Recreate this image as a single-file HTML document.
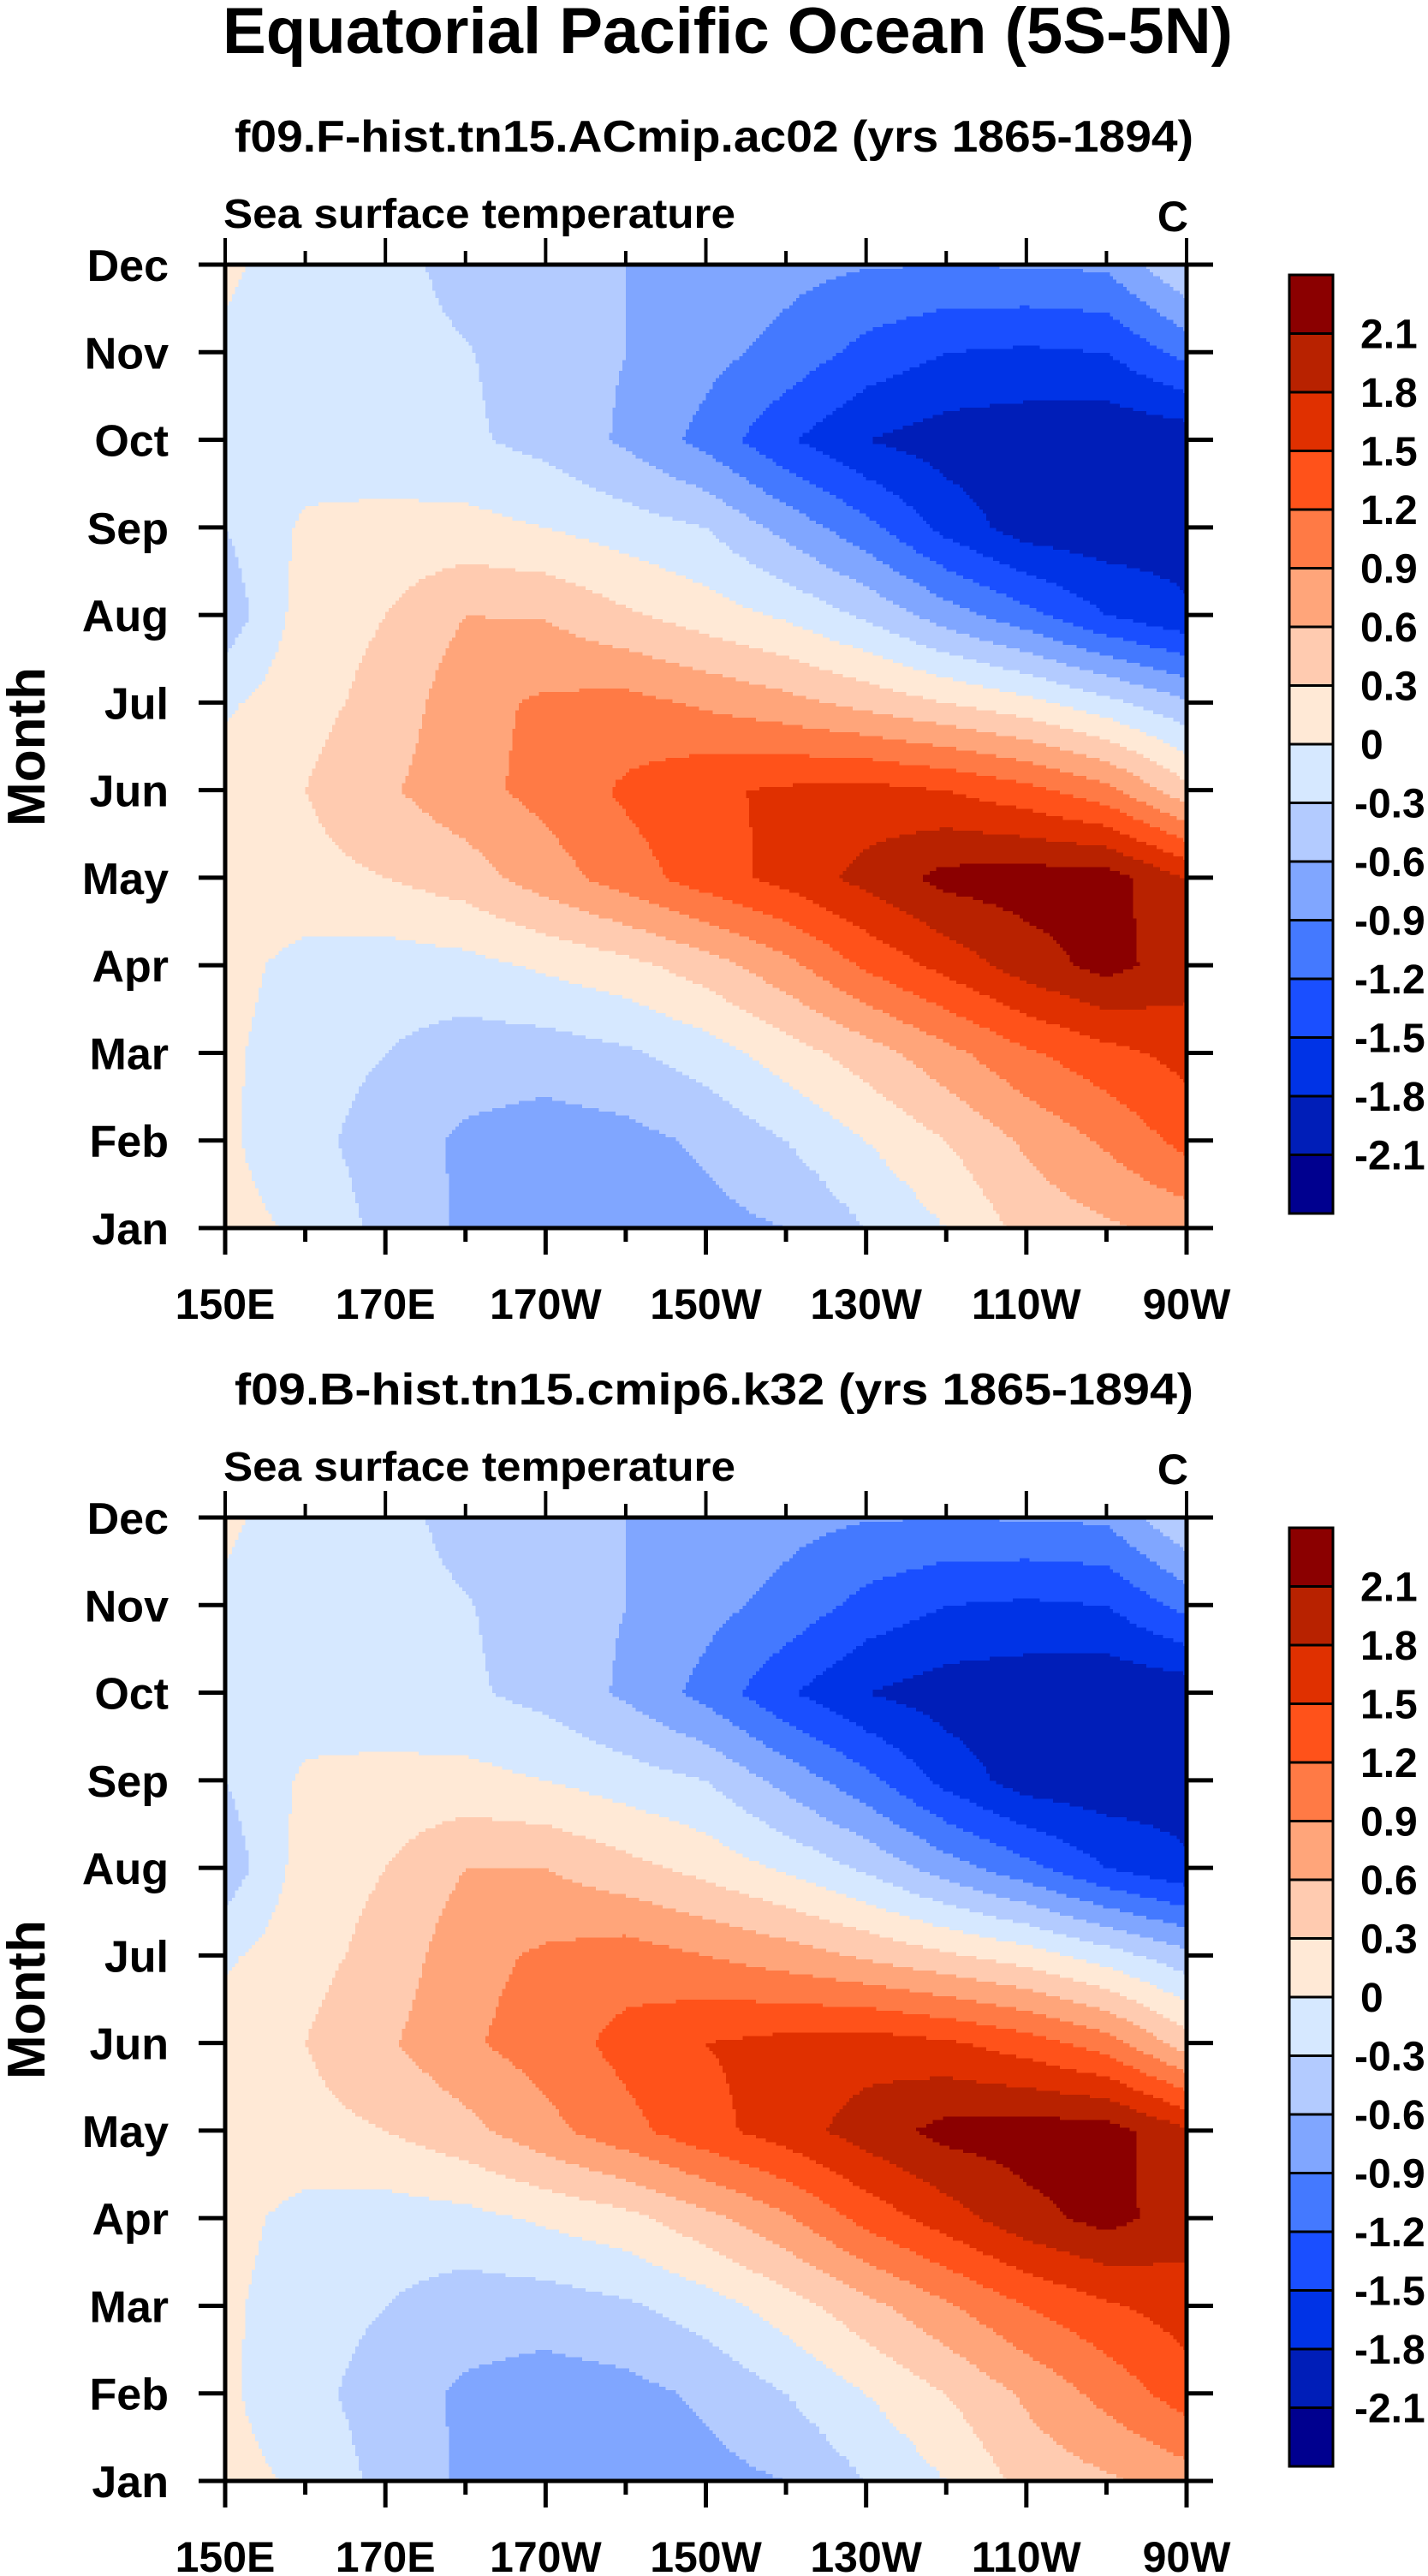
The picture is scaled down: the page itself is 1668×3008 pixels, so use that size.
<!DOCTYPE html>
<html><head><meta charset="utf-8">
<style>
html,body{margin:0;padding:0;background:#fff;}
svg{display:block;}
text{font-family:"Liberation Sans",Arial,sans-serif;font-weight:bold;fill:#000;}
</style></head>
<body>
<svg id="chart" width="1668" height="3008" viewBox="0 0 1668 3008" xmlns="http://www.w3.org/2000/svg">
<text x="850" y="62" font-size="76" text-anchor="middle" textLength="1180" lengthAdjust="spacingAndGlyphs">Equatorial Pacific Ocean (5S-5N)</text>
</svg>
<script>
// ---- data ----
const months = ["Jan","Feb","Mar","Apr","May","Jun","Jul","Aug","Sep","Oct","Nov","Dec"];
const lonLabels = ["150E","170E","170W","150W","130W","110W","90W"];
const lons = [150,160,170,180,190,200,210,220,230,240,250,260,270];
const levels = [-2.1,-1.8,-1.5,-1.2,-0.9,-0.6,-0.3,0,0.3,0.6,0.9,1.2,1.5,1.8,2.1];
const levelLabels = ["2.1","1.8","1.5","1.2","0.9","0.6","0.3","0","-0.3","-0.6","-0.9","-1.2","-1.5","-1.8","-2.1"];
const colors = ["#00008f","#001eb8","#0033e6","#1a4fff","#4479ff","#80a6ff","#b3cbff","#d6e8ff","#ffe9d6","#ffcbb0","#ffa57a","#ff7a45","#ff521a","#e03000","#b82200","#8b0000"];
// rows: Jan..Dec, columns: 150E..90W every 10 deg
const sstA = [
 [0.1,-0.05,-0.4,-0.65,-0.75,-0.75,-0.7,-0.6,-0.3,0.0,0.4,0.55,0.7],
 [0.05,-0.2,-0.45,-0.65,-0.75,-0.7,-0.55,-0.3,0.0,0.3,0.65,0.95,1.3],
 [0.05,-0.15,-0.3,-0.45,-0.45,-0.35,-0.15,0.15,0.45,0.8,1.15,1.4,1.6],
 [0.1,-0.1,-0.15,-0.1,0.05,0.2,0.45,0.8,1.25,1.6,1.95,2.2,1.95],
 [0.15,0.2,0.3,0.45,0.75,1.05,1.35,1.6,1.9,2.2,2.25,2.25,1.8],
 [0.15,0.3,0.55,0.8,1.0,1.25,1.45,1.55,1.6,1.5,1.3,1.0,0.4],
 [-0.05,0.2,0.4,0.8,0.95,1.0,0.85,0.7,0.5,0.3,0.1,-0.2,-0.55],
 [-0.5,0.15,0.3,0.6,0.58,0.35,0.15,-0.05,-0.35,-0.75,-1.1,-1.5,-1.75],
 [-0.3,0.05,0.1,0.1,0.0,-0.15,-0.3,-0.7,-1.1,-1.6,-1.95,-2.0,-1.95],
 [-0.1,-0.15,-0.2,-0.25,-0.4,-0.65,-1.0,-1.45,-1.8,-1.95,-2.0,-2.05,-2.0],
 [-0.05,-0.1,-0.2,-0.28,-0.45,-0.6,-0.8,-1.0,-1.3,-1.5,-1.55,-1.5,-1.1],
 [0.05,-0.15,-0.2,-0.4,-0.5,-0.6,-0.7,-0.8,-0.88,-0.9,-0.88,-0.85,-0.3]
];
const sstB = [
 [0.1,-0.05,-0.4,-0.65,-0.75,-0.75,-0.7,-0.6,-0.3,0.0,0.4,0.55,0.75],
 [0.05,-0.2,-0.45,-0.65,-0.75,-0.7,-0.55,-0.3,0.0,0.3,0.65,1.0,1.35],
 [0.05,-0.15,-0.3,-0.45,-0.45,-0.35,-0.15,0.15,0.5,0.85,1.2,1.45,1.65],
 [0.1,-0.1,-0.15,-0.1,0.05,0.2,0.5,0.85,1.3,1.65,2.0,2.2,1.95],
 [0.15,0.2,0.3,0.5,0.8,1.1,1.4,1.65,1.95,2.2,2.25,2.25,1.85],
 [0.15,0.3,0.55,0.85,1.05,1.3,1.5,1.6,1.65,1.55,1.35,1.05,0.45],
 [-0.05,0.2,0.4,0.8,0.95,1.05,0.9,0.75,0.55,0.35,0.15,-0.15,-0.5],
 [-0.5,0.15,0.3,0.6,0.6,0.4,0.2,-0.05,-0.35,-0.75,-1.1,-1.5,-1.75],
 [-0.3,0.05,0.1,0.1,0.0,-0.15,-0.3,-0.7,-1.1,-1.6,-1.95,-2.0,-1.95],
 [-0.1,-0.15,-0.2,-0.25,-0.4,-0.65,-1.0,-1.45,-1.8,-1.95,-2.0,-2.05,-2.0],
 [-0.05,-0.1,-0.2,-0.28,-0.45,-0.6,-0.8,-1.0,-1.3,-1.5,-1.55,-1.5,-1.1],
 [0.05,-0.15,-0.2,-0.4,-0.5,-0.6,-0.7,-0.8,-0.88,-0.9,-0.88,-0.85,-0.3]
];
const subtitles = ["f09.F-hist.tn15.ACmip.ac02 (yrs 1865-1894)","f09.B-hist.tn15.cmip6.k32 (yrs 1865-1894)"];

const NS = "http://www.w3.org/2000/svg";
const svg = document.getElementById("chart");
function mk(tag, attrs, parent){const e=document.createElementNS(NS,tag);for(const k in attrs)e.setAttribute(k,attrs[k]);(parent||svg).appendChild(e);return e;}
function colorFor(v){let i=0;while(i<levels.length&&v>=levels[i])i++;return colors[i];}

function drawPanel(data, sub, off, idx){
  const X0=263,X1=1386,Y0=309+off,Y1=1434+off;
  const xs=lon=>X0+(lon-150)/120*(X1-X0);
  const ys=m=>Y1-m/11*(Y1-Y0);
  const g=mk("g",{});
  
  
  const st=mk("text",{x:834,y:177+off,"font-size":52,"text-anchor":"middle",textLength:1120,lengthAdjust:"spacingAndGlyphs"},g);
  st.textContent=sub;
  
  
  const lt=mk("text",{x:261,y:266+off,"font-size":48,textLength:598,lengthAdjust:"spacingAndGlyphs"},g);
  lt.textContent="Sea surface temperature";
  
  
  const ut=mk("text",{x:1388,y:270+off,"font-size":50,"text-anchor":"end"},g);
  ut.textContent="C";
  
  
  const field=mk("g",{"shape-rendering":"crispEdges"},g);
  
  
  const NR=11*24, NC=12*24;
  const cw=(X1-X0)/NC, rh=(Y1-Y0)/NR;
  for(let r=0;r<NR;r++){
    const m=(r+0.5)/NR*11; const mi=Math.min(10,Math.floor(m)); const ft=m-mi;
    let runStart=0, runCol=null;
    for(let c=0;c<=NC;c++){
      let col=null;
      if(c<NC){
        const l=(c+0.5)/NC*12; const li=Math.min(11,Math.floor(l)); const fl=l-li;
        const v=(1-ft)*((1-fl)*data[mi][li]+fl*data[mi][li+1])+ft*((1-fl)*data[mi+1][li]+fl*data[mi+1][li+1]);
        col=colorFor(v);
      }
      if(col!==runCol){
        if(runCol!==null){
          const rc=mk("rect",{x:(X0+runStart*cw).toFixed(2),y:(Y1-(r+1)*rh).toFixed(2),width:((c-runStart)*cw+0.6).toFixed(2),height:(rh+0.6).toFixed(2),fill:runCol},field);
          
          
        }
        runStart=c; runCol=col;
      }
    }
  }
  const fr=mk("rect",{x:X0,y:Y0,width:X1-X0,height:Y1-Y0,fill:"none",stroke:"#000","stroke-width":5},g);
  
  
  months.forEach((mn,i)=>{
    const y=ys(i);
    const t1=mk("line",{x1:X0-31,x2:X0,y1:y,y2:y,stroke:"#000","stroke-width":5},g);
    
    
    const t2=mk("line",{x1:X1,x2:X1+31,y1:y,y2:y,stroke:"#000","stroke-width":5},g);
    
    
    const lb=mk("text",{x:197,y:y+19,"font-size":52,"text-anchor":"end"},g);
    lb.textContent=mn;
    
    
  });
  for(let lon=150;lon<=270;lon+=10){
    const x=xs(lon); const major=(lon-150)%20===0; const L=major?31:16;
    const b=mk("line",{x1:x,x2:x,y1:Y1,y2:Y1+L,stroke:"#000","stroke-width":5},g);
    
    
    const t=mk("line",{x1:x,x2:x,y1:Y0-L,y2:Y0,stroke:"#000","stroke-width":4},g);
    
    
  }
  lonLabels.forEach((lab,i)=>{
    const lb=mk("text",{x:xs(150+i*20),y:Y1+106,"font-size":50,"text-anchor":"middle"},g);
    lb.textContent=lab;
    
    
  });
  const yt=mk("text",{x:0,y:0,"font-size":62,"text-anchor":"middle",transform:"translate(52,"+(872+off)+") rotate(-90)"},g);
  yt.textContent="Month";
  
  
  const cb=mk("g",{},g);
  
  
  const CX=1506,CW=51,CT=321+off,BH=68.5;
  for(let k=0;k<colors.length;k++){
    const rc=mk("rect",{x:CX,y:CT+k*BH,width:CW,height:BH,fill:colors[colors.length-1-k],stroke:"#000","stroke-width":3},cb);
    
    
  }
  levelLabels.forEach((lab,k)=>{
    const lb=mk("text",{x:lab[0]==="-"?1582:1589,y:CT+(k+1)*BH+17,"font-size":48},cb);
    lb.textContent=lab;
    
    
  });
}
drawPanel(sstA, subtitles[0], 0, 0);
drawPanel(sstB, subtitles[1], 1463, 1);
</script>
</body></html>
